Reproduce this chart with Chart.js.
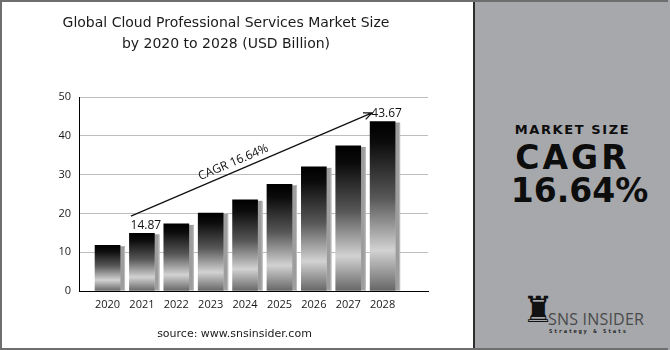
<!DOCTYPE html>
<html>
<head>
<meta charset="utf-8">
<script src="https://cdn.jsdelivr.net/npm/chart.js@4.4.1/dist/chart.umd.min.js"></script>
<style>
  html, body { margin: 0; padding: 0; background: #fff; }
  #wrap { position: relative; width: 670px; height: 350px; overflow: hidden; background: #fff; }
  #frame { position: absolute; left: 0; top: 0; width: 666px; height: 346px; border: 2px solid #6e6e6e; border-right: none; pointer-events: none; }
  #chartBox { position: absolute; left: 0; top: 0; width: 473px; height: 350px; }
  #title { position: absolute; left: 0; top: 12px; width: 452px; text-align: center; font: 14px/21px "DejaVu Sans", sans-serif; color: #1a1a1a; }
  #source { position: absolute; left: 0; top: 328px; width: 469px; text-align: center; font: 11px/11px "DejaVu Sans", sans-serif; color: #1a1a1a; }
  #side { position: absolute; left: 473px; top: 0; width: 197px; height: 350px; background: #a7a8ac; border-left: 2px solid #2e2e2e; box-sizing: border-box; }
  .big { position: absolute; left: 0; width: 195px; text-align: center; font-family: "DejaVu Sans", sans-serif; font-weight: bold; color: #0d0d0d; white-space: nowrap; }
  #mk { top: 123px; font-size: 13px; line-height: 13px; letter-spacing: 1.6px; }
  #cagr { top: 141px; font-size: 33px; line-height: 33px; letter-spacing: 3px; }
  #pct { top: 174px; left: 7px; font-size: 33px; line-height: 33px; }
  #rook { position: absolute; left: 47px; top: 290px; font: 36px/40px "DejaVu Sans", sans-serif; color: #111; }
  #brand { position: absolute; left: 73px; top: 311px; font: 16px/16px "Open Sans", sans-serif; color: #4a4a4a; letter-spacing: 0.2px; }
  #tag { position: absolute; left: 74px; top: 328px; font: bold 5.5px/6px "DejaVu Sans Mono", monospace; color: #222; letter-spacing: 1.6px; }
</style>
</head>
<body>
<div id="wrap">
  <div id="chartBox"><canvas id="marketChart" width="473" height="350"></canvas></div>
  <div id="title">Global Cloud Professional Services Market Size<br>by 2020 to 2028 (USD Billion)</div>
  <div id="source">source: www.snsinsider.com</div>
  <div id="side">
    <div class="big" id="mk">MARKET SIZE</div>
    <div class="big" id="cagr">CAGR</div>
    <div class="big" id="pct">16.64%</div>
    <div id="rook">♜</div>
    <div id="brand">SNS INSIDER</div>
    <div id="tag">Strategy &amp; Stats</div>
  </div>
  <div id="frame"></div>
</div>
<script>
// -------------------- Data --------------------
const years = ['2020', '2021', '2022', '2023', '2024', '2025', '2026', '2027', '2028'];
const marketSize = [11.8, 14.87, 17.3, 20.1, 23.5, 27.5, 32.0, 37.4, 43.67];
const labelledYears = ['2021', '2028'];
const yTicks = [0, 10, 20, 30, 40, 50];
const cagrLabel = 'CAGR 16.64%';

// arrow ends, in data units (x = year index, y = USD bn)
const arrowFrom = { x: 0.68, y: 19.3 };
const arrowTo = { x: 7.69, y: 45.9 };

// -------------------- Bar fill --------------------
function barGradient(context) {
  const chart = context.chart;
  if (!chart.chartArea) return '#333';
  const yScale = chart.scales.y;
  const top = yScale.getPixelForValue(marketSize[context.dataIndex]);
  const base = yScale.getPixelForValue(0);
  const g = chart.ctx.createLinearGradient(0, top, 0, base);
  g.addColorStop(0, '#000');
  g.addColorStop(0.12, '#0b0b0b');
  g.addColorStop(0.45, '#575757');
  g.addColorStop(0.76, '#d2d2d2');
  g.addColorStop(1, '#666');
  return g;
}

// gray side strip behind each bar
const barShadow = {
  id: 'barShadow',
  beforeDatasetsDraw(chart) {
    const ctx = chart.ctx;
    ctx.save();
    chart.getDatasetMeta(0).data.forEach(bar => {
      const { x, y, base, width } = bar.getProps(['x', 'y', 'base', 'width'], true);
      ctx.fillStyle = '#9d9d9d';
      ctx.fillRect(x + width / 2, y + 1, 5, base - y - 1);
      ctx.fillStyle = '#bdbdbd';
      ctx.fillRect(x + width / 2 + 4, y + 2, 1, base - y - 2);
    });
    ctx.restore();
  }
};

// value labels, arrow and CAGR note
const notes = {
  id: 'notes',
  afterDatasetsDraw(chart) {
    const ctx = chart.ctx;
    const xs = chart.scales.x, ys = chart.scales.y;
    ctx.save();
    ctx.fillStyle = '#111';
    ctx.font = '12px "Open Sans", sans-serif';
    ctx.textAlign = 'center';
    ctx.textBaseline = 'bottom';
    const bars = chart.getDatasetMeta(0).data;
    labelledYears.forEach(yr => {
      const i = years.indexOf(yr);
      const bar = bars[i];
      ctx.fillText(marketSize[i].toFixed(2), bar.x + 4, bar.y - 2);
    });

    const x1 = xs.getPixelForValue(arrowFrom.x), y1 = ys.getPixelForValue(arrowFrom.y);
    const x2 = xs.getPixelForValue(arrowTo.x), y2 = ys.getPixelForValue(arrowTo.y);
    const ang = Math.atan2(y2 - y1, x2 - x1);
    ctx.strokeStyle = '#111';
    ctx.lineWidth = 1.3;
    ctx.beginPath();
    ctx.moveTo(x1, y1);
    ctx.lineTo(x2, y2);
    ctx.moveTo(x2 - 9 * Math.cos(ang - 0.4), y2 - 9 * Math.sin(ang - 0.4));
    ctx.lineTo(x2, y2);
    ctx.lineTo(x2 - 9 * Math.cos(ang + 0.4), y2 - 9 * Math.sin(ang + 0.4));
    ctx.stroke();

    const t = 0.44;
    const mx = x1 + (x2 - x1) * t, my = y1 + (y2 - y1) * t;
    ctx.translate(mx + 9 * Math.sin(ang), my - 9 * Math.cos(ang));
    ctx.rotate(ang);
    ctx.textBaseline = 'middle';
    ctx.fillText(cagrLabel, 0, 0);
    ctx.restore();
  }
};

// -------------------- Chart --------------------
const ctx = document.getElementById('marketChart').getContext('2d');
const chart = new Chart(ctx, {
  type: 'bar',
  data: {
    datasets: [{
      data: marketSize.map((v, i) => ({ x: i, y: v })),
      backgroundColor: barGradient,
      borderWidth: 0,
      barThickness: 25
    }]
  },
  options: {
    responsive: false,
    animation: false,
    layout: { padding: { left: 20, right: 45, top: 97, bottom: 35 } },
    plugins: { legend: { display: false }, tooltip: { enabled: false } },
    scales: {
      x: {
        type: 'linear',
        offset: false,
        min: -0.83,
        max: 9.32,
        grid: { display: false, drawTicks: false },
        border: { display: true, color: '#000', width: 1 },
        afterFit: s => { s.height = 24; },
        afterBuildTicks: s => { s.ticks = years.map((y, i) => ({ value: i })); },
        ticks: {
          autoSkip: false,
          maxRotation: 0,
          padding: 7,
          color: '#1a1a1a',
          font: { family: 'Open Sans', size: 11 },
          callback: v => years[v] ?? ''
        }
      },
      y: {
        min: 0,
        max: 50,
        afterFit: s => { s.width = 59; },
        afterBuildTicks: s => { s.ticks = yTicks.map(v => ({ value: v })); },
        grid: { color: '#bdbdbd', drawTicks: false },
        border: { display: true, color: '#000', width: 1 },
        ticks: {
          padding: 8,
          color: '#1a1a1a',
          font: { family: 'Open Sans', size: 11 }
        }
      }
    }
  },
  plugins: [barShadow, notes]
});
</script>
</body>
</html>
